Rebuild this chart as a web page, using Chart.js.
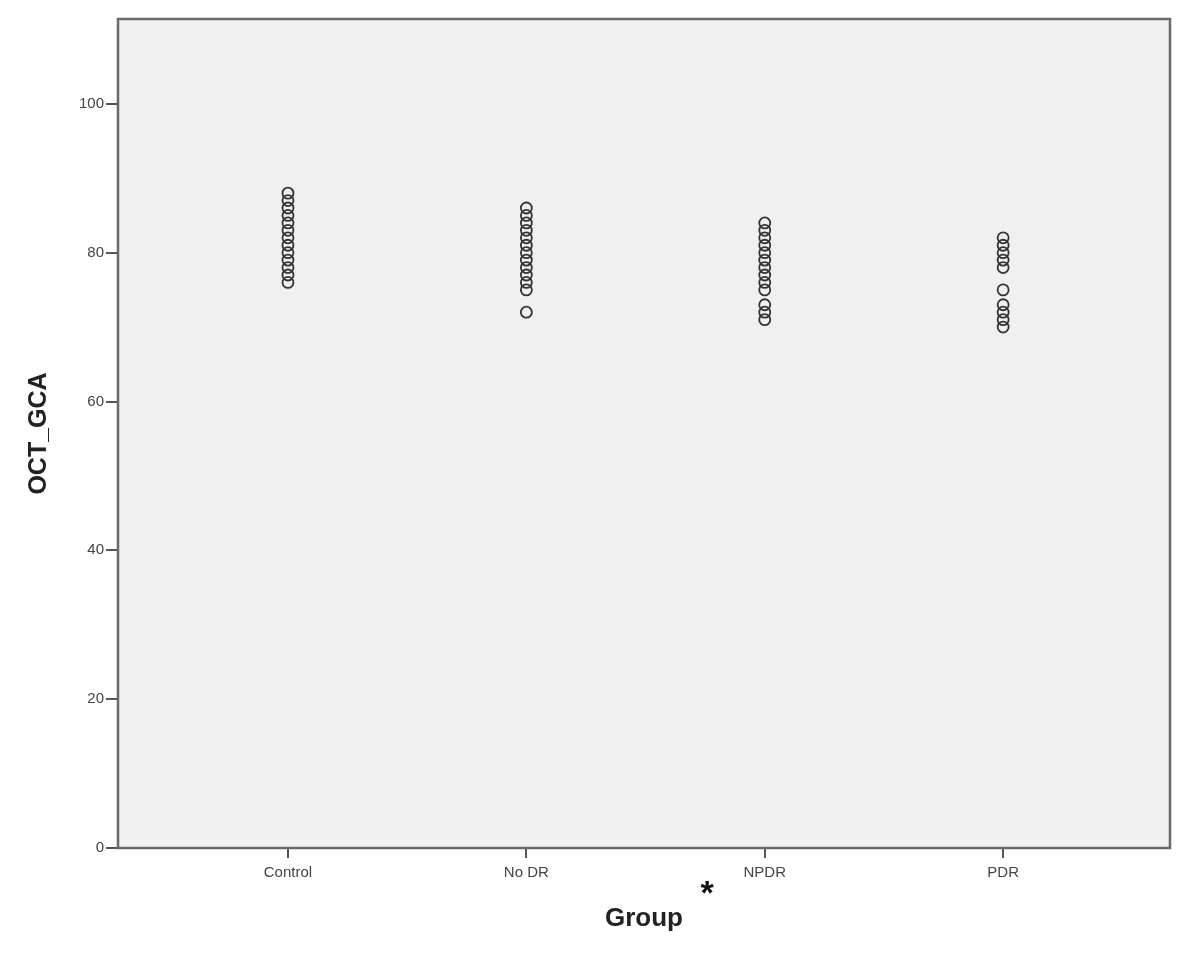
<!DOCTYPE html>
<html>
<head>
<meta charset="utf-8">
<script src="https://cdn.jsdelivr.net/npm/chart.js@4.4.1/dist/chart.umd.min.js"></script>
<style>
  html, body { margin: 0; padding: 0; background: #ffffff; }
  #wrap { width: 1193px; height: 966px; }
</style>
</head>
<body>
<div id="wrap"><canvas id="c" width="1193" height="966"></canvas></div>
<script>
// ---- Data ----
const categories = ['Control', 'No DR', 'NPDR', 'PDR'];
const controlValues = [76, 77, 78, 79, 80, 81, 82, 83, 84, 85, 86, 87, 88];
const noDrValues = [72, 75, 76, 77, 78, 79, 80, 81, 82, 83, 84, 85, 86];
const npdrValues = [71, 72, 73, 75, 76, 77, 78, 79, 80, 81, 82, 83, 84];
const pdrValues = [70, 71, 72, 73, 75, 78, 79, 80, 81, 82];
const yTickValues = [0, 20, 40, 60, 80, 100];
const yAxisTitle = 'OCT_GCA';
const xAxisTitle = 'Group';

const groups = [controlValues, noDrValues, npdrValues, pdrValues];
const points = [];
groups.forEach((vals, i) => vals.forEach(v => points.push({ x: i + 1, y: v })));

const plotBg = {
  id: 'plotBg',
  beforeDraw(chart) {
    const { ctx, chartArea: a } = chart;
    ctx.save();
    ctx.fillStyle = '#f0f0f0';
    ctx.fillRect(a.left, a.top, a.right - a.left, a.bottom - a.top);
    ctx.restore();
  },
  afterDraw(chart) {
    const { ctx, chartArea: a } = chart;
    ctx.save();
    ctx.strokeStyle = '#6a6a6a';
    ctx.lineWidth = 2.5;
    ctx.strokeRect(a.left, a.top, a.right - a.left, a.bottom - a.top);
    // asterisk next to the x title
    ctx.fillStyle = '#111';
    ctx.font = 'bold 34px "Liberation Sans", Arial, sans-serif';
    ctx.textAlign = 'center';
    ctx.textBaseline = 'middle';
    ctx.fillText('*', 707, 895);
    ctx.restore();
  }
};

new Chart(document.getElementById('c'), {
  type: 'scatter',
  data: {
    datasets: [{
      data: points,
      pointStyle: 'circle',
      pointRadius: 5.5,
      pointHoverRadius: 5.5,
      borderColor: '#333333',
      backgroundColor: 'rgba(0,0,0,0)',
      pointBorderWidth: 1.8
    }]
  },
  options: {
    responsive: false,
    animation: false,
    devicePixelRatio: 1,
    layout: { padding: { left: 0, top: 19, right: 23, bottom: 0 } },
    plugins: { legend: { display: false }, tooltip: { enabled: false } },
    scales: {
      x: {
        type: 'linear',
        min: 0.287,
        max: 4.70,
        afterBuildTicks(scale) { scale.ticks = categories.map((c, i) => ({ value: i + 1 })); },
        afterFit(scale) { scale.height = 118; },
        ticks: {
          callback: (v) => categories[v - 1] || '',
          color: '#444',
          font: { family: '"Liberation Sans", Arial, sans-serif', size: 15 },
          padding: 6,
          maxRotation: 0,
          autoSkip: false
        },
        grid: { drawOnChartArea: false, drawTicks: true, tickLength: 10, color: '#555', lineWidth: 2 },
        border: { display: false },
        title: {
          display: true,
          text: xAxisTitle,
          color: '#222',
          font: { family: '"Liberation Sans", Arial, sans-serif', size: 26, weight: 'bold' },
          padding: { top: 16, bottom: 32 }
        }
      },
      y: {
        min: 0,
        max: 111.4,
        afterBuildTicks(scale) { scale.ticks = yTickValues.map(v => ({ value: v })); },
        afterFit(scale) { scale.width = 118; },
        ticks: {
          color: '#444',
          font: { family: '"Liberation Sans", Arial, sans-serif', size: 15 },
          padding: 2
        },
        grid: { drawOnChartArea: false, drawTicks: true, tickLength: 12, color: '#555', lineWidth: 2 },
        border: { display: false },
        title: {
          display: true,
          text: yAxisTitle,
          color: '#222',
          font: { family: '"Liberation Sans", Arial, sans-serif', size: 25, weight: 'bold' },
          padding: { top: 24, bottom: 0 }
        }
      }
    }
  },
  plugins: [plotBg]
});
</script>
</body>
</html>
